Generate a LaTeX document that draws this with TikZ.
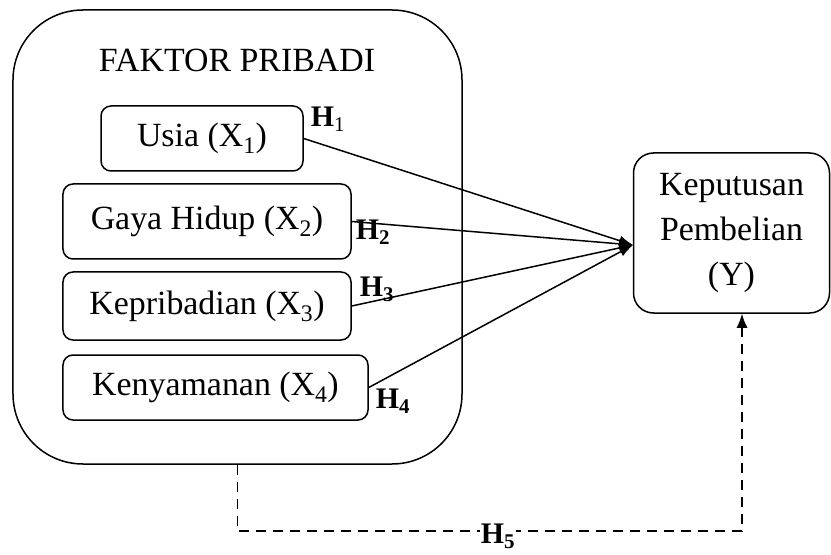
\documentclass[tikz,border=0pt]{standalone}
\usepackage{fontspec}
\setmainfont{Liberation Serif}
\usetikzlibrary{arrows.meta}

\begin{document}
\begin{tikzpicture}[x=1bp,y=-1bp]
    \tikzstyle{every node}=[font=\fontsize{34}{45}\selectfont]
    \tikzstyle{kotak}=[draw, rounded corners=10bp, line width=1.5bp, inner sep=0pt]
    \tikzstyle{hipo}=[inner sep=0pt, font=\fontsize{30}{30}\selectfont\bfseries]
    \tikzstyle{panah}=[line width=1.5bp, -{Latex[length=14bp,width=10bp]}]
    \useasboundingbox (0,0) rectangle (831,555);
    % kotak faktor pribadi
    \node[kotak, rounded corners=70bp, minimum width=449bp, minimum height=454bp] (pribadi) at (237.5,237) {};
    \node (judul) at (237,60) {FAKTOR PRIBADI};
    \node[kotak, minimum width=202bp, minimum height=65bp] (usia) at (202,138.5) {Usia (X\textsubscript{1})};
    \node[kotak, minimum width=288bp, minimum height=75bp] (gaya) at (207,221.5) {Gaya Hidup (X\textsubscript{2})};
    \node[kotak, minimum width=288bp, minimum height=68bp] (kepribadian) at (207,306) {Kepribadian (X\textsubscript{3})};
    \node[kotak, minimum width=305bp, minimum height=65bp] (kenyamanan) at (215.5,387.5) {Kenyamanan (X\textsubscript{4})};
    % variabel terikat
    \node[kotak, rounded corners=20bp, minimum width=196bp, minimum height=160bp, align=center] (keputusan) at (731.5,233) {Keputusan\\Pembelian\\(Y)};
    \coordinate (ujung) at (633,245);
    \draw[panah] (usia.east) -- (ujung);
    \draw[panah] (gaya.east) -- (ujung);
    \draw[panah] (kepribadian.east) -- (ujung);
    \draw[panah] (kenyamanan.east) -- (ujung);
    \node[hipo] (h1) at (328,119) {H\textsubscript{\mdseries 1}};
    \node[hipo] (h2) at (373,232) {H\textsubscript{2}};
    \node[hipo] (h3) at (377,289) {H\textsubscript{3}};
    \node[hipo] (h4) at (393,401) {H\textsubscript{4}};
    % simultan
    \draw[line width=1.5bp, dash pattern=on 10bp off 7bp, -{Latex[length=14bp,width=11bp]}]
      (pribadi.south) -- (pribadi.south |- 0,531) -| ([xshift=10.5bp]keputusan.south);
    \node[hipo, fill=white, inner sep=1bp] (h5) at (498,536) {H\textsubscript{5}};
\end{tikzpicture}
\end{document}
